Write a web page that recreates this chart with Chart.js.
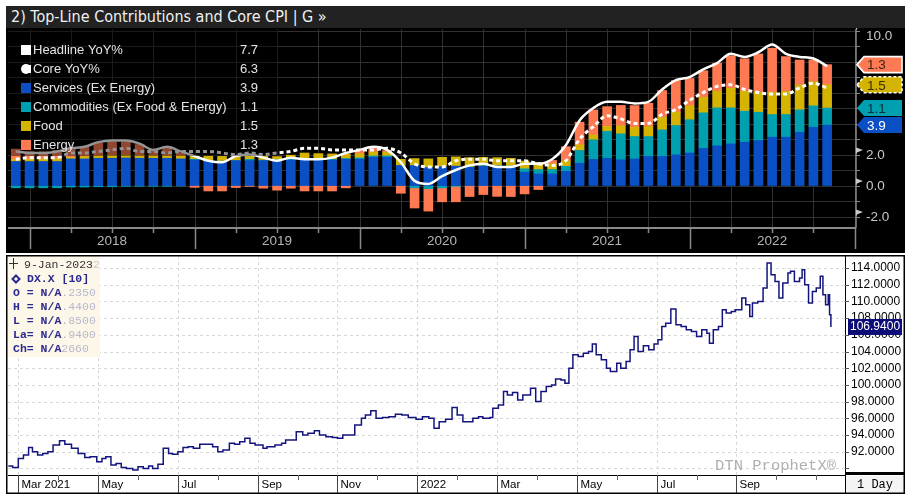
<!DOCTYPE html>
<html>
<head>
<meta charset="utf-8">
<script src="https://cdn.jsdelivr.net/npm/chart.js@4.4.0/dist/chart.umd.min.js"></script>
<style>
  html, body { margin: 0; padding: 0; background: #fff; width: 911px; height: 500px; overflow: hidden; }
  #painelCpi { position: absolute; left: 6px; top: 6px; width: 899px; height: 247px; background: #000; }
  #tituloCpi { position: absolute; left: 0; top: 0; width: 899px; height: 22px; background: #222; color: #f0f0f0;
    font: 16px "Liberation Sans Narrow", "DejaVu Sans Condensed", Arial, sans-serif; line-height: 22px; padding-left: 5px; box-sizing: border-box; }
  #graficoCpi { position: absolute; left: 0; top: 22px; }
  #painelDx { position: absolute; left: 6px; top: 255px; width: 899px; height: 239px; background: #fff; }
  #graficoDx { position: absolute; left: 0; top: 0; }
</style>
</head>
<body>
<div id="painelCpi">
  <div id="tituloCpi">2) Top-Line Contributions and Core CPI | G »</div>
  <canvas id="graficoCpi" width="899" height="225"></canvas>
</div>
<div id="painelDx">
  <canvas id="graficoDx" width="899" height="239"></canvas>
</div>
<script>
// ---- grafico de cima: contribuicoes do CPI (fim de mes, Nov-17 a Oct-22)
const mesesCpi = [
  'Nov-17','Dec-17',
  'Jan-18','Feb-18','Mar-18','Apr-18','May-18','Jun-18','Jul-18','Aug-18','Sep-18','Oct-18','Nov-18','Dec-18',
  'Jan-19','Feb-19','Mar-19','Apr-19','May-19','Jun-19','Jul-19','Aug-19','Sep-19','Oct-19','Nov-19','Dec-19',
  'Jan-20','Feb-20','Mar-20','Apr-20','May-20','Jun-20','Jul-20','Aug-20','Sep-20','Oct-20','Nov-20','Dec-20',
  'Jan-21','Feb-21','Mar-21','Apr-21','May-21','Jun-21','Jul-21','Aug-21','Sep-21','Oct-21','Nov-21','Dec-21',
  'Jan-22','Feb-22','Mar-22','Apr-22','May-22','Jun-22','Jul-22','Aug-22','Sep-22','Oct-22'
];
const anosCpi = ['2018', '2019', '2020', '2021', '2022'];
const ticksCpi = [10, 2, 0, -2];

const cheia = [2.2, 2.1,
  2.1, 2.2, 2.4, 2.5, 2.8, 2.9, 2.9, 2.7, 2.3, 2.5, 2.2, 1.9,
  1.6, 1.5, 1.9, 2.0, 1.8, 1.6, 1.8, 1.7, 1.7, 1.8, 2.1, 2.3,
  2.5, 2.3, 1.5, 0.3, 0.1, 0.6, 1.0, 1.3, 1.4, 1.2, 1.2, 1.4,
  1.4, 1.7, 2.6, 4.2, 5.0, 5.4, 5.4, 5.3, 5.4, 6.2, 6.8, 7.0,
  7.5, 7.9, 8.5, 8.3, 8.6, 9.1, 8.5, 8.3, 8.2, 7.7];
const nucleo = [1.7, 1.8,
  1.8, 1.8, 2.1, 2.1, 2.2, 2.3, 2.4, 2.2, 2.2, 2.1, 2.2, 2.2,
  2.2, 2.1, 2.0, 2.1, 2.0, 2.1, 2.2, 2.4, 2.4, 2.3, 2.3, 2.3,
  2.3, 2.4, 2.1, 1.4, 1.2, 1.2, 1.6, 1.7, 1.7, 1.6, 1.6, 1.6,
  1.4, 1.3, 1.6, 3.0, 3.8, 4.5, 4.3, 4.0, 4.0, 4.6, 4.9, 5.5,
  6.0, 6.4, 6.5, 6.2, 6.0, 5.9, 5.9, 6.3, 6.6, 6.3];
const servicos = [1.55, 1.55,
  1.55, 1.55, 1.72, 1.72, 1.76, 1.76, 1.78, 1.76, 1.76, 1.76, 1.72, 1.65,
  1.55, 1.55, 1.61, 1.61, 1.61, 1.61, 1.65, 1.65, 1.65, 1.65, 1.70, 1.70,
  1.83, 1.83, 1.29, 1.29, 1.16, 1.22, 1.25, 1.18, 1.25, 1.25, 1.18, 0.86,
  0.75, 0.75, 0.92, 1.44, 1.68, 1.76, 1.66, 1.72, 1.87, 1.87, 1.98, 2.10,
  2.39, 2.56, 2.69, 2.80, 2.90, 3.12, 3.12, 3.44, 3.76, 3.90];
const bens = [-0.15, -0.15,
  -0.15, -0.15, -0.10, -0.10, -0.08, -0.08, -0.05, -0.05, -0.05, -0.05, -0.03, 0.05,
  0.05, 0.03, 0.00, 0.08, 0.03, 0.06, 0.06, 0.10, 0.06, 0.04, 0.04, 0.08,
  0.08, 0.08, 0.00, -0.15, -0.20, -0.15, -0.05, 0.02, 0.03, 0.03, 0.08, 0.22,
  0.28, 0.28, 0.32, 0.82, 1.27, 1.74, 1.68, 1.44, 1.29, 1.72, 1.89, 2.15,
  2.30, 2.45, 2.32, 2.00, 1.83, 1.46, 1.46, 1.44, 1.38, 1.10];
const alimentos = [0.15, 0.15,
  0.17, 0.17, 0.10, 0.15, 0.17, 0.20, 0.19, 0.17, 0.17, 0.17, 0.18, 0.20,
  0.30, 0.30, 0.25, 0.20, 0.25, 0.20, 0.25, 0.35, 0.35, 0.35, 0.30, 0.28,
  0.25, 0.25, 0.40, 0.45, 0.56, 0.60, 0.60, 0.60, 0.54, 0.52, 0.50, 0.50,
  0.47, 0.37, 0.37, 0.37, 0.32, 0.32, 0.52, 0.60, 0.65, 0.82, 0.86, 0.90,
  1.00, 1.08, 1.27, 1.29, 1.29, 1.44, 1.50, 1.61, 1.57, 1.50];
const energia = [0.65, 0.49,
  0.45, 0.54, 0.54, 0.60, 0.80, 0.85, 0.85, 0.72, 0.35, 0.60, 0.20, -0.12,
  -0.35, -0.35, -0.13, -0.06, -0.17, -0.30, -0.17, -0.35, -0.35, -0.35, -0.15, 0.20,
  0.26, 0.10, -0.50, -1.30, -1.45, -0.90, -1.00, -0.71, -0.58, -0.70, -0.71, -0.54,
  -0.26, 0.22, 0.90, 1.46, 1.61, 1.27, 1.31, 1.40, 1.50, 1.72, 2.04, 1.76,
  1.72, 1.80, 2.10, 2.09, 2.47, 2.84, 2.24, 1.61, 1.40, 1.30];

// ---- grafico de baixo: DX.X diario
const dxDatas = [
  '2021-02-22','2021-02-25','2021-03-01','2021-03-05','2021-03-09','2021-03-12','2021-03-16','2021-03-20','2021-03-24','2021-03-28',
  '2021-04-02','2021-04-06','2021-04-11','2021-04-16','2021-04-21','2021-04-25','2021-04-30','2021-05-04','2021-05-07','2021-05-11',
  '2021-05-15','2021-05-19','2021-05-23','2021-05-28','2021-06-01','2021-06-05','2021-06-09','2021-06-12','2021-06-16','2021-06-20',
  '2021-06-24','2021-06-27','2021-07-01','2021-07-05','2021-07-09','2021-07-13','2021-07-18','2021-07-23','2021-07-28','2021-08-01',
  '2021-08-05','2021-08-10','2021-08-14','2021-08-18','2021-08-22','2021-08-26','2021-08-30','2021-09-05','2021-09-08','2021-09-14',
  '2021-09-19','2021-09-22','2021-09-26','2021-09-30','2021-10-05','2021-10-09','2021-10-14','2021-10-18','2021-10-23','2021-10-28',
  '2021-11-01','2021-11-05','2021-11-10','2021-11-14','2021-11-19','2021-11-22','2021-11-26','2021-11-30','2021-12-05','2021-12-10',
  '2021-12-15','2021-12-20','2021-12-25','2021-12-31','2022-01-05','2022-01-10','2022-01-14','2022-01-18','2022-01-23','2022-01-28',
  '2022-02-01','2022-02-05','2022-02-09','2022-02-12','2022-02-16','2022-02-19','2022-02-24','2022-02-26','2022-03-02','2022-03-06',
  '2022-03-09','2022-03-13','2022-03-17','2022-03-21','2022-03-24','2022-03-27','2022-03-31','2022-04-04','2022-04-08','2022-04-12',
  '2022-04-15','2022-04-19','2022-04-22','2022-04-25','2022-04-28','2022-05-02','2022-05-06','2022-05-10','2022-05-13','2022-05-16',
  '2022-05-20','2022-05-24','2022-05-27','2022-06-01','2022-06-04','2022-06-08','2022-06-11','2022-06-14','2022-06-17','2022-06-21',
  '2022-06-25','2022-06-29','2022-07-02','2022-07-05','2022-07-08','2022-07-12','2022-07-16','2022-07-20','2022-07-24','2022-07-28',
  '2022-08-01','2022-08-05','2022-08-09','2022-08-11','2022-08-14','2022-08-18','2022-08-21','2022-08-24','2022-08-28','2022-08-31',
  '2022-09-05','2022-09-08','2022-09-11','2022-09-13','2022-09-17','2022-09-21','2022-09-24','2022-09-27','2022-09-30','2022-10-03',
  '2022-10-06','2022-10-10','2022-10-12','2022-10-15','2022-10-19','2022-10-21','2022-10-23','2022-10-26','2022-10-29','2022-11-01',
  '2022-11-04','2022-11-06','2022-11-08','2022-11-10','2022-11-11','2022-11-12'
];
const dxValores = [
  90.3, 90.1, 91.2, 91.6, 92.5, 92.0, 91.6, 91.8, 92.0, 92.8,
  93.3, 92.9, 92.4, 91.8, 91.3, 91.4, 90.8, 91.2, 91.4, 90.4,
  90.6, 90.1, 90.0, 89.8, 90.2, 90.0, 90.3, 90.0, 90.5, 92.4,
  91.8, 91.7, 92.0, 92.5, 92.6, 92.4, 92.9, 92.9, 92.6, 92.0,
  92.2, 93.0, 92.9, 93.2, 93.6, 93.0, 92.8, 92.4, 92.6, 92.8,
  93.0, 93.4, 93.4, 94.4, 94.0, 94.2, 94.5, 94.0, 93.8, 93.7,
  93.6, 94.0, 94.0, 95.2, 96.0, 96.4, 96.9, 96.0, 96.1, 96.2,
  96.5, 96.4, 96.1, 95.9, 96.2, 96.0, 94.8, 95.6, 95.9, 97.3,
  96.4, 95.6, 95.6, 96.0, 96.2, 96.0, 96.1, 97.2, 97.6, 99.2,
  98.8, 99.1, 98.2, 98.8, 98.8, 99.6, 98.0, 99.2, 99.8, 100.0,
  100.7, 100.6, 100.2, 102.0, 103.6, 103.4, 103.8, 104.0, 104.9, 103.6,
  103.0, 102.0, 101.6, 102.6, 102.0, 102.8, 104.2, 105.8, 104.0, 104.7,
  104.2, 104.9, 105.4, 107.0, 107.4, 109.1, 107.2, 107.0, 106.6, 106.4,
  105.8, 106.6, 106.2, 105.0, 106.6, 107.0, 109.0, 108.6, 108.8, 109.0,
  110.4, 109.6, 108.2, 109.8, 110.0, 111.6, 114.6, 113.2, 112.4, 110.4,
  112.2, 113.4, 113.6, 112.4, 112.8, 113.8, 112.0, 109.8, 111.2, 111.6,
  113.0, 110.8, 109.6, 110.8, 108.4, 106.94
];
const mesesDx = ['Mar 2021', '', 'May', '', 'Jul', '', 'Sep', '', 'Nov', '', '2022', '',
  'Mar', '', 'May', '', 'Jul', '', 'Sep', '', ''];
const gradeYDx = [90, 92, 94, 96, 98, 100, 102, 104, 106, 108, 110, 112, 114];
const ticksDx = [92, 94, 96, 98, 100, 102, 104, 106, 108, 110, 112, 114];

const cores = {
  servicos: '#0a50c4',
  bens: '#00a0b0',
  alimentos: '#d4b400',
  energia: '#ff7a52'
};

function linha(ctx, x1, y1, x2, y2) {
  ctx.beginPath();
  ctx.moveTo(x1, y1);
  ctx.lineTo(x2, y2);
  ctx.stroke();
}

function pontos(lista) {
  return lista.map((v, i) => ({ x: i, y: v }));
}

function ultimo(lista) {
  return lista[lista.length - 1];
}

function etiqueta(ctx, x0, yc, fundo, texto, corTexto, borda) {
  const w = 45, h = 16;
  ctx.beginPath();
  ctx.moveTo(x0, yc);
  ctx.lineTo(x0 + 7, yc - h / 2);
  ctx.lineTo(x0 + w, yc - h / 2);
  ctx.lineTo(x0 + w, yc + h / 2);
  ctx.lineTo(x0 + 7, yc + h / 2);
  ctx.closePath();
  ctx.fillStyle = fundo;
  ctx.fill();
  if (borda) {
    ctx.strokeStyle = '#fff';
    ctx.lineWidth = 1.6;
    ctx.setLineDash(borda === 'pontilhado' ? [3, 2] : []);
    ctx.stroke();
    ctx.setLineDash([]);
  }
  ctx.fillStyle = corTexto;
  ctx.font = '13.5px Arial, "Liberation Sans", sans-serif';
  ctx.textAlign = 'left';
  ctx.textBaseline = 'middle';
  ctx.fillText(texto, x0 + 10, yc + 1);
}

const gradeCpi = {
  id: 'gradeCpi',
  beforeDatasetsDraw(chart) {
    const { ctx, chartArea: a, scales: { x, y } } = chart;
    ctx.save();
    ctx.strokeStyle = '#303030';
    ctx.lineWidth = 1;
    for (let v = -2; v <= 10; v++) {
      const py = Math.round(y.getPixelForValue(v)) + 0.5;
      linha(ctx, a.left, py, a.right, py);
    }
    for (let q = 1; q <= mesesCpi.length + 1; q += 3) {
      const px = Math.round(x.getPixelForValue(q)) + 0.5;
      linha(ctx, px, a.top, px, a.bottom);
    }
    ctx.restore();
  }
};

const eixosCpi = {
  id: 'eixosCpi',
  afterDatasetsDraw(chart) {
    const { ctx, chartArea: a } = chart;
    ctx.save();
    // caixa da legenda escurece o que esta por baixo
    ctx.fillStyle = 'rgba(0,0,0,0.42)';
    ctx.fillRect(a.left, a.top, 270, 127);

    const itens = [
      { nome: 'Headline YoY%', serie: cheia, cor: '#fff' },
      { nome: 'Core YoY%', serie: nucleo, cor: '#fff', pontilhado: true },
      { nome: 'Services (Ex Energy)', serie: servicos, cor: cores.servicos },
      { nome: 'Commodities (Ex Food & Energy)', serie: bens, cor: cores.bens },
      { nome: 'Food', serie: alimentos, cor: cores.alimentos },
      { nome: 'Energy', serie: energia, cor: cores.energia }
    ];
    ctx.font = '13px Arial, "Liberation Sans", sans-serif';
    ctx.textBaseline = 'middle';
    itens.forEach((item, k) => {
      const yc = a.top + 21 + 19 * k;
      ctx.fillStyle = item.cor;
      if (item.pontilhado) {
        ctx.beginPath();
        ctx.arc(a.left + 18, yc, 5, 0, Math.PI * 2);
        ctx.fill();
        ctx.fillRect(a.left + 18, yc - 4, 5, 8);
      } else {
        ctx.fillRect(a.left + 13, yc - 5, 10, 10);
      }
      ctx.fillStyle = '#e4e4e4';
      ctx.textAlign = 'left';
      ctx.fillText(item.nome, a.left + 25, yc);
      ctx.fillText(ultimo(item.serie).toFixed(1), a.left + 232, yc);
    });
    ctx.restore();
  },
  afterDraw(chart) {
    const { ctx, chartArea: a, scales: { x, y } } = chart;
    ctx.save();
    ctx.strokeStyle = '#8a8a8a';
    ctx.lineWidth = 2;
    linha(ctx, a.left, a.bottom, a.right, a.bottom);
    ctx.lineWidth = 1.5;
    linha(ctx, a.right, a.top, a.right, a.bottom);

    // eixo dos anos
    for (let q = 1; q <= mesesCpi.length + 1; q += 3) {
      const px = Math.round(x.getPixelForValue(q)) + 0.5;
      const anual = (q - 1) % 12 === 0;
      linha(ctx, px, a.bottom, px, a.bottom + (anual ? 21 : 5));
    }
    ctx.fillStyle = '#b4b4b4';
    ctx.font = '13.5px Arial, "Liberation Sans", sans-serif';
    ctx.textAlign = 'center';
    ctx.textBaseline = 'middle';
    anosCpi.forEach((ano, k) => {
      ctx.fillText(ano, x.getPixelForValue(7 + 12 * k), a.bottom + 13);
    });

    // eixo da direita
    ctx.lineWidth = 1;
    for (let v = -2; v <= 10; v++) {
      const py = Math.round(y.getPixelForValue(v)) + 0.5;
      linha(ctx, a.right, py, a.right + 4, py);
    }
    ctx.textAlign = 'left';
    ctx.fillStyle = '#c8c8c8';
    ticksCpi.forEach(v => {
      const py = y.getPixelForValue(v);
      ctx.beginPath();
      ctx.moveTo(a.right, py);
      ctx.lineTo(a.right, py - 7);
      ctx.lineTo(a.right + 7, py - 4.5);
      ctx.lineTo(a.right + 1, py - 2);
      ctx.closePath();
      ctx.fill();
      ctx.fillText(v.toFixed(1), a.right + 10, Math.max(py + 1, a.top + 7));
    });

    // etiquetas dos ultimos valores
    const t1 = ultimo(servicos);
    const t2 = t1 + ultimo(bens);
    const t3 = t2 + ultimo(alimentos);
    const t4 = t3 + ultimo(energia);
    etiqueta(ctx, a.right + 1, y.getPixelForValue(t1), cores.servicos, ultimo(servicos).toFixed(1), '#fff');
    etiqueta(ctx, a.right + 1, y.getPixelForValue(t2), cores.bens, ultimo(bens).toFixed(1), '#0b3036');
    etiqueta(ctx, a.right + 1, y.getPixelForValue(t3), cores.alimentos, ultimo(alimentos).toFixed(1), '#3a3000', 'pontilhado');
    etiqueta(ctx, a.right + 1, y.getPixelForValue(t4), cores.energia, ultimo(energia).toFixed(1), '#3a2418', 'cheia');
    ctx.restore();
  }
};

const barra = { type: 'bar', barThickness: 9, order: 1 };

new Chart(document.getElementById('graficoCpi'), {
  type: 'bar',
  data: {
    datasets: [
      { label: 'Headline YoY%', type: 'line', data: pontos(cheia), borderColor: '#fff', borderWidth: 2.5,
        pointRadius: 0, cubicInterpolationMode: 'monotone', stack: 'cheia', order: 0 },
      { label: 'Core YoY%', type: 'line', data: pontos(nucleo), borderColor: '#fff', borderWidth: 3, borderDash: [4, 3],
        pointRadius: 0, cubicInterpolationMode: 'monotone', stack: 'nucleo', order: 0 },
      { ...barra, label: 'Services (Ex Energy)', data: pontos(servicos), backgroundColor: cores.servicos },
      { ...barra, label: 'Commodities (Ex Food & Energy)', data: pontos(bens), backgroundColor: cores.bens },
      { ...barra, label: 'Food', data: pontos(alimentos), backgroundColor: cores.alimentos },
      { ...barra, label: 'Energy', data: pontos(energia), backgroundColor: cores.energia }
    ]
  },
  options: {
    responsive: false,
    animation: false,
    layout: { padding: { left: 2, right: 49, top: 1, bottom: 25 } },
    plugins: { legend: { display: false }, tooltip: { enabled: false } },
    scales: {
      x: { type: 'linear', min: -0.567, max: 61.1, offset: false, stacked: true, display: false },
      y: { min: -2.74, max: 10.1, stacked: true, display: false }
    }
  },
  plugins: [gradeCpi, eixosCpi]
});

// ---- DX
function posicaoMes(d) {
  const [ano, mes, dia] = d.split('-').map(Number);
  const diasNoMes = new Date(ano, mes, 0).getDate();
  return (ano - 2021) * 12 + (mes - 3) + (dia - 1) / diasNoMes;
}

const gradeDx = {
  id: 'gradeDx',
  beforeDatasetsDraw(chart) {
    const { ctx, chartArea: a, scales: { x, y } } = chart;
    ctx.save();
    ctx.strokeStyle = '#d8d8d8';
    ctx.lineWidth = 1;
    ctx.setLineDash([3, 3]);
    gradeYDx.forEach(v => {
      const py = Math.round(y.getPixelForValue(v)) + 0.5;
      linha(ctx, a.left, py, a.right, py);
    });
    mesesDx.forEach((m, k) => {
      if (!m) return;
      const px = Math.round(x.getPixelForValue(k)) + 0.5;
      linha(ctx, px, a.top, px, a.bottom);
    });
    ctx.restore();
  }
};

const eixosDx = {
  id: 'eixosDx',
  afterDraw(chart) {
    const { ctx, chartArea: a, scales: { x, y }, width, height } = chart;
    ctx.save();

    // quadro de dados no canto
    ctx.fillStyle = '#fdf7ea';
    ctx.fillRect(a.left, a.top, 92, 101);
    const mono = '"Liberation Mono", "DejaVu Sans Mono", monospace';
    ctx.textBaseline = 'middle';
    ctx.textAlign = 'left';
    ctx.strokeStyle = '#333';
    ctx.lineWidth = 1;
    linha(ctx, a.left + 1, a.top + 7.5, a.left + 10, a.top + 7.5);
    linha(ctx, a.left + 5.5, a.top + 2, a.left + 5.5, a.top + 13);
    ctx.font = '11.5px ' + mono;
    ctx.fillStyle = '#333';
    ctx.fillText('9-Jan-2023', a.left + 16, a.top + 9);
    ctx.fillStyle = '#c8c8d4';
    ctx.fillText('2', a.left + 16 + ctx.measureText('9-Jan-2023').width, a.top + 9);
    ctx.fillStyle = '#2a2a8c';
    ctx.font = 'bold 11.5px ' + mono;
    ctx.beginPath();
    const yd = a.top + 23;
    ctx.moveTo(a.left + 8, yd - 3.5); ctx.lineTo(a.left + 11.5, yd); ctx.lineTo(a.left + 8, yd + 3.5); ctx.lineTo(a.left + 4.5, yd);
    ctx.closePath();
    ctx.strokeStyle = '#2a2a8c';
    ctx.lineWidth = 2;
    ctx.stroke();
    ctx.fillText('DX.X [10]', a.left + 19, yd);
    const campos = [['O = N/A', '.2350'], ['H = N/A', '.4400'], ['L = N/A', '.8500'], ['La= N/A', '.9400'], ['Ch= N/A', '2660']];
    campos.forEach((c, k) => {
      const yc = a.top + 37 + 14.1 * k;
      ctx.font = 'bold 11.5px ' + mono;
      ctx.fillStyle = '#2a2a8c';
      ctx.fillText(c[0], a.left + 5, yc);
      const w = ctx.measureText(c[0]).width;
      ctx.font = '11.5px ' + mono;
      ctx.fillStyle = '#b8b8cc';
      ctx.fillText(c[1], a.left + 5 + w, yc);
    });

    // marca d'agua
    ctx.font = '15.5px ' + mono;
    ctx.fillStyle = '#b0b0b0';
    ctx.textAlign = 'right';
    ctx.fillText('DTN ProphetX\u00ae', a.right - 9, a.bottom - 9);

    // eixos
    ctx.strokeStyle = '#000';
    ctx.lineWidth = 1;
    linha(ctx, a.left, a.bottom + 0.5, a.right, a.bottom + 0.5);
    linha(ctx, a.right + 0.5, 0, a.right + 0.5, height);
    ctx.font = '11.5px Arial, "Liberation Sans", sans-serif';
    ctx.fillStyle = '#000';
    ctx.textAlign = 'left';
    mesesDx.forEach((m, k) => {
      const px = Math.round(x.getPixelForValue(k)) + 0.5;
      ctx.strokeStyle = m ? '#444' : '#666';
      linha(ctx, px, a.bottom, px, m ? height : a.bottom + 5);
      if (m) ctx.fillText(m, px + 3, a.bottom + 10);
    });

    ctx.strokeStyle = '#555';
    ctx.font = '12px Arial, "Liberation Sans", sans-serif';
    gradeYDx.forEach(v => {
      const py = Math.round(y.getPixelForValue(v)) + 0.5;
      linha(ctx, a.right, py, a.right + 4, py);
    });
    ticksDx.forEach(v => {
      ctx.fillText(v.toFixed(4), a.right + 6, y.getPixelForValue(v));
    });

    // ultimo valor
    const yu = y.getPixelForValue(ultimo(dxValores));
    ctx.fillStyle = '#0c0c78';
    ctx.fillRect(a.right + 3, yu - 8, 54, 16);
    ctx.fillStyle = '#fff';
    ctx.font = '12px Arial, "Liberation Sans", sans-serif';
    ctx.fillText(ultimo(dxValores).toFixed(4), a.right + 5, yu);

    // canto "1 Day"
    ctx.fillStyle = '#f4f4f4';
    ctx.fillRect(a.right + 1, a.bottom + 1, width - a.right - 2, height - a.bottom - 2);
    ctx.fillStyle = '#000';
    ctx.fillRect(a.right, a.bottom - 3, width - a.right, 3);
    ctx.font = '12px ' + mono;
    ctx.fillText('1 Day', a.right + 12, a.bottom + 10);

    // moldura
    ctx.strokeStyle = '#000';
    ctx.lineWidth = 1.5;
    ctx.strokeRect(0.75, 0.75, width - 1.5, height - 1.5);
    ctx.restore();
  }
};

new Chart(document.getElementById('graficoDx'), {
  type: 'line',
  data: {
    datasets: [{
      label: 'DX.X',
      data: dxDatas.map((d, k) => ({ x: posicaoMes(d), y: dxValores[k] })),
      borderColor: '#14147e',
      borderWidth: 1.5,
      pointRadius: 0,
      stepped: true
    }]
  },
  options: {
    responsive: false,
    animation: false,
    layout: { padding: { left: 2, right: 60, top: 1, bottom: 19 } },
    plugins: { legend: { display: false }, tooltip: { enabled: false } },
    scales: {
      x: { type: 'linear', min: -0.258, max: 20.72, display: false },
      y: { min: 89.21, max: 115.44, display: false }
    }
  },
  plugins: [gradeDx, eixosDx]
});
</script>
</body>
</html>
